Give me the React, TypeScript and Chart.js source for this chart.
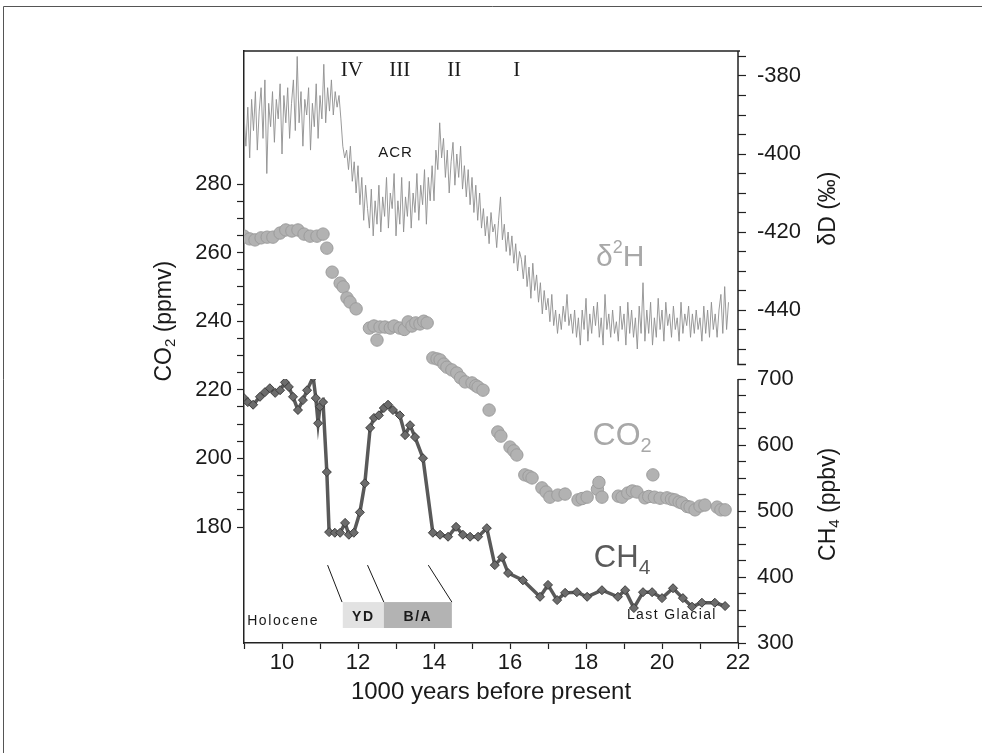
import React, { useEffect, useRef } from 'react';
import { Chart, registerables } from 'chart.js';

Chart.register(...registerables);

const SANS = '"Liberation Sans", Arial, Helvetica, sans-serif';
const SERIF = '"Liberation Serif", "Times New Roman", serif';

// δD (‰) record, one value every 0.05 kyr starting at 9.00 kyr BP
const DD_START = 9.0;
const DD_STEP = 0.05;
const deltaD = [
  // 9.00 – 9.95
  -390, -398, -388, -401, -386, -394, -384, -399, -389, -383, -396, -381, -405, -387, -393, -384, -397, -386, -391, -382,
  // 10.00 – 10.95
  -400, -385, -392, -383, -396, -387, -381, -394, -375, -392, -384, -398, -386, -390, -383, -399, -387, -393, -382, -396,
  // 11.00 – 11.95
  -385, -391, -377, -392, -383, -389, -381, -390, -384, -388, -385, -391, -398, -401, -399, -404, -398, -407, -402, -410,
  // 12.00 – 12.95
  -403, -413, -406, -417, -408, -414, -419, -409, -421, -412, -418, -408, -420, -411, -416, -406, -419, -410, -414, -405,
  // 13.00 – 13.95
  -421, -412, -418, -406, -420, -411, -416, -407, -419, -410, -415, -405, -417, -408, -413, -404, -418, -406, -412, -403,
  // 14.00 – 14.95
  -412, -399, -404, -392, -401, -396, -406, -399, -410, -402, -397, -408, -400, -406, -398, -409, -403, -411, -404, -413,
  // 15.00 – 15.95
  -406, -415, -408, -417, -410, -419, -414, -421, -416, -423, -415, -420, -418, -424, -417, -411, -422, -418, -425, -420,
  // 16.00 – 16.95
  -426, -421, -428, -423, -430, -425, -427, -432, -426, -434, -429, -437, -428, -435, -431, -438, -433, -441, -435, -440,
  // 17.00 – 17.95
  -437, -443, -436, -444, -440, -446, -441, -445, -439, -443, -436, -444, -441, -446, -440, -447, -442, -449, -440, -445,
  // 18.00 – 18.95
  -437, -448, -441, -446, -439, -444, -438, -447, -442, -449, -436, -445, -441, -447, -440, -446, -443, -448, -439, -445,
  // 19.00 – 19.95
  -441, -449, -438, -446, -440, -447, -442, -450, -439, -446, -433, -448, -440, -446, -438, -449, -442, -447, -437, -445,
  // 20.00 – 20.95
  -440, -448, -438, -444, -441, -447, -439, -445, -442, -448, -438, -446, -441, -444, -439, -447, -441, -446, -440, -445,
  // 21.00 – 21.75
  -442, -448, -439, -446, -440, -447, -438, -445, -441, -447, -440, -436, -446, -434, -445, -438,
];

// CO2 (ppmv)
const co2Age = [
  9.0, 9.15, 9.29, 9.45, 9.61, 9.76, 9.95, 10.1, 10.26, 10.42, 10.58, 10.74, 10.92, 11.08,
  11.18, 11.32, 11.53, 11.61, 11.71, 11.79, 11.95,
  12.3, 12.42, 12.5, 12.58, 12.71, 12.85, 12.95, 13.1, 13.22, 13.32, 13.42, 13.52, 13.63, 13.73, 13.82,
  13.97, 14.08, 14.16, 14.26, 14.34, 14.47, 14.6, 14.7, 14.82, 15.0, 15.1, 15.16, 15.29, 15.45,
  15.68, 15.76, 16.0, 16.1, 16.18, 16.39, 16.5, 16.58, 16.84, 16.95, 17.05, 17.26, 17.45, 17.79,
  17.9, 18.03, 18.3, 18.34, 18.42, 18.85, 18.95, 19.1, 19.22, 19.34, 19.55, 19.65, 19.76, 19.8,
  19.95, 20.13, 20.25, 20.34, 20.45, 20.53, 20.66, 20.74, 20.87, 21.0, 21.13, 21.45, 21.55, 21.66,
];
const co2Ppmv = [
  264.8, 264.0, 263.7, 264.3, 264.5, 264.5, 265.7, 266.6, 266.3, 266.6, 265.4, 264.8, 264.8, 265.4,
  261.3, 254.3, 251.1, 250.0, 246.8, 245.6, 243.6,
  238.0, 238.6, 234.5, 238.3, 238.3, 238.0, 238.6, 238.0, 237.6, 239.8, 238.6, 239.5, 239.2, 240.0, 239.5,
  229.3, 229.0, 228.7, 227.5, 226.6, 225.8, 224.9, 223.5, 222.3, 222.0, 221.2, 220.8, 219.9, 214.1,
  207.7, 206.5, 203.3, 202.2, 201.0, 195.2, 194.8, 194.3, 191.4, 190.2, 188.7, 189.3, 189.6, 187.9,
  188.3, 188.7, 191.0, 193.0, 188.7, 189.0, 188.7, 189.9, 190.5, 190.2, 188.5, 188.9, 195.2, 188.7,
  188.4, 188.5, 188.1, 187.9, 187.3, 187.0, 186.0, 185.8, 185.0, 186.1, 186.4, 185.8, 185.0, 185.0,
];

// CH4 (ppbv)
const ch4Age = [
  9.0, 9.1, 9.24, 9.42, 9.55, 9.68, 9.82, 9.95, 10.08, 10.18, 10.29, 10.42, 10.55, 10.66, 10.82,
  10.89, 10.95, 11.0, 11.08, 11.18, 11.24, 11.39, 11.53, 11.66, 11.76, 11.89, 12.05, 12.18, 12.32,
  12.42, 12.55, 12.68, 12.79, 12.92, 13.1, 13.24, 13.37, 13.5, 13.71, 13.97, 14.16, 14.37, 14.58,
  14.76, 14.95, 15.16, 15.39, 15.6, 15.79, 15.95, 16.34, 16.79, 17.0, 17.24, 17.45, 17.76, 18.03,
  18.42, 18.84, 19.03, 19.26, 19.5, 19.74, 20.0, 20.29, 20.55, 20.79, 21.05, 21.39, 21.66,
];
const ch4Ppbv = [
  671, 665, 661, 673, 680, 686, 679, 683, 695, 688, 673, 653, 668, 683, 703,
  671, 633, 658, 665, 559, 468, 467, 467, 482, 464, 467, 498, 542, 626,
  641, 645, 656, 661, 653, 645, 615, 630, 612, 580, 467, 464, 461, 476,
  464, 461, 461, 474, 418, 430, 406, 395, 370, 388, 365, 376, 377, 370,
  380, 370, 380, 353, 377, 377, 368, 383, 368, 355, 361, 361, 356,
];

// axis ticks
const xTickValues = [9, 10, 11, 12, 13, 14, 15, 16, 17, 18, 19, 20, 21, 22];
const xTickLabels = [10, 12, 14, 16, 18, 20, 22];
const co2TickValues = [180, 185, 190, 195, 200, 205, 210, 215, 220, 225, 230, 235, 240, 245, 250, 255, 260, 265, 270, 275, 280];
const co2TickLabels = [180, 200, 220, 240, 260, 280];
const ddTickValues = [-375, -380, -385, -390, -395, -400, -405, -410, -415, -420, -425, -430, -435, -440, -445, -450];
const ddTickLabels = [-380, -400, -420, -440];
const ch4TickValues = [300, 325, 350, 375, 400, 425, 450, 475, 500, 525, 550, 575, 600, 625, 650, 675, 700];
const ch4TickLabels = [300, 400, 500, 600, 700];

// annotations (data coordinates)
const phaseNames = ['IV', 'III', 'II', 'I'];
const phaseAges = [11.84, 13.1, 14.53, 16.18];
const PHASE_DD = -378.5;
const periodNames = ['YD', 'B/A'];
const periodStart = [11.6, 12.68];
const periodEnd = [12.68, 14.47];
const boundaryTopAge = [11.2, 12.25, 13.85];
const boundaryBottomAge = [11.58, 12.68, 14.47];

type Part = { t: string; size: number; dy?: number; bold?: boolean };

function drawParts(ctx: CanvasRenderingContext2D, parts: Part[], cx: number, cy: number, color: string, family: string, spacing = 0) {
  ctx.fillStyle = color;
  ctx.textBaseline = 'middle';
  ctx.textAlign = 'left';
  (ctx as any).letterSpacing = spacing + 'px';
  const widths = parts.map((p) => {
    ctx.font = `${p.bold ? 'bold ' : ''}${p.size}px ${family}`;
    return ctx.measureText(p.t).width;
  });
  const total = widths.reduce((a, b) => a + b, 0);
  let xx = cx - total / 2;
  parts.forEach((p, i) => {
    ctx.font = `${p.bold ? 'bold ' : ''}${p.size}px ${family}`;
    ctx.fillText(p.t, xx, cy + (p.dy || 0));
    xx += widths[i];
  });
  (ctx as any).letterSpacing = '0px';
}

const decor = {
  id: 'decor',
  afterDraw(chart: any) {
    const { ctx, chartArea: ca, scales } = chart;
    const x = scales.x, yC = scales.yC, yD = scales.yD, yM = scales.yM;
    ctx.save();
    // outer frame
    ctx.strokeStyle = '#555';
    ctx.lineWidth = 1;
    ctx.beginPath();
    ctx.moveTo(3.5, chart.height);
    ctx.lineTo(3.5, 6.5);
    ctx.lineTo(chart.width, 6.5);
    ctx.stroke();

    // plot top border + right spines
    ctx.strokeStyle = '#222';
    ctx.lineWidth = 1.5;
    ctx.beginPath();
    ctx.moveTo(ca.left, ca.top);
    ctx.lineTo(ca.right + 2, ca.top);
    const ddEnd = yD.getPixelForValue(-454);
    ctx.moveTo(ca.right, ca.top);
    ctx.lineTo(ca.right, ddEnd);
    ctx.lineTo(ca.right + 8, ddEnd);
    ctx.moveTo(ca.right, yM.getPixelForValue(700));
    ctx.lineTo(ca.right, yM.getPixelForValue(300));
    ctx.stroke();

    // axis titles
    ctx.save();
    ctx.translate(165, yC.getPixelForValue(240));
    ctx.rotate(-Math.PI / 2);
    drawParts(ctx, [{ t: 'CO', size: 23 }, { t: '2', size: 15, dy: 6 }, { t: ' (ppmv)', size: 23 }], 0, 0, '#1a1a1a', SANS);
    ctx.restore();

    ctx.save();
    ctx.translate(829, yD.getPixelForValue(-414));
    ctx.rotate(-Math.PI / 2);
    drawParts(ctx, [{ t: 'δD (‰)', size: 23 }], 0, 0, '#1a1a1a', SANS);
    ctx.restore();

    ctx.save();
    ctx.translate(829, yM.getPixelForValue(510));
    ctx.rotate(-Math.PI / 2);
    drawParts(ctx, [{ t: 'CH', size: 23 }, { t: '4', size: 15, dy: 6 }, { t: ' (ppbv)', size: 23 }], 0, 0, '#1a1a1a', SANS);
    ctx.restore();

    drawParts(ctx, [{ t: '1000 years before present', size: 24 }], (ca.left + ca.right) / 2, 692, '#1a1a1a', SANS);

    // phase numerals
    phaseNames.forEach((n, i) => {
      drawParts(ctx, [{ t: n, size: 21 }], x.getPixelForValue(phaseAges[i]), yD.getPixelForValue(PHASE_DD), '#1a1a1a', SERIF);
    });
    drawParts(ctx, [{ t: 'ACR', size: 15 }], x.getPixelForValue(12.99), yD.getPixelForValue(-399.7), '#1a1a1a', SANS, 1);

    // series labels
    drawParts(ctx, [{ t: 'δ', size: 30 }, { t: '2', size: 18, dy: -9 }, { t: 'H', size: 30 }], x.getPixelForValue(18.9), yD.getPixelForValue(-426.5), '#a8a8a8', SANS);
    drawParts(ctx, [{ t: 'CO', size: 32 }, { t: '2', size: 20, dy: 10 }], x.getPixelForValue(18.95), yC.getPixelForValue(206.5), '#a8a8a8', SANS);
    drawParts(ctx, [{ t: 'CH', size: 31 }, { t: '4', size: 21, dy: 10 }], x.getPixelForValue(18.95), yM.getPixelForValue(428), '#5a5a5a', SANS);

    // climate periods
    const boxTop = yM.getPixelForValue(362);
    const boxBot = yM.getPixelForValue(322.7);
    const fills = ['#e2e2e2', '#b3b3b3'];
    periodNames.forEach((n, i) => {
      const x0 = x.getPixelForValue(periodStart[i]);
      const x1 = x.getPixelForValue(periodEnd[i]);
      ctx.fillStyle = fills[i];
      ctx.fillRect(x0, boxTop, x1 - x0, boxBot - boxTop);
      drawParts(ctx, [{ t: n, size: 14, bold: true }], (x0 + x1) / 2, yM.getPixelForValue(339.4), '#1a1a1a', SANS, 1.5);
    });
    ctx.strokeStyle = '#1a1a1a';
    ctx.lineWidth = 1;
    ctx.beginPath();
    boundaryTopAge.forEach((a, i) => {
      ctx.moveTo(x.getPixelForValue(a), yM.getPixelForValue(418));
      ctx.lineTo(x.getPixelForValue(boundaryBottomAge[i]), boxTop);
    });
    ctx.stroke();
    drawParts(ctx, [{ t: 'Holocene', size: 14 }], x.getPixelForValue(10.03), yM.getPixelForValue(333.3), '#1a1a1a', SANS, 1.6);
    drawParts(ctx, [{ t: 'Last Glacial', size: 14 }], x.getPixelForValue(20.26), yM.getPixelForValue(342.4), '#1a1a1a', SANS, 1.4);
    ctx.restore();
  },
};

const tickFont = { family: SANS, size: 22 };

export default function App() {
  const ref = useRef<HTMLCanvasElement>(null);
  useEffect(() => {
    const canvas = ref.current;
    if (!canvas) return;
    const ddData = deltaD.map((v, i) => ({ x: DD_START + i * DD_STEP, y: v }));
    const co2Data = co2Age.map((a, i) => ({ x: a, y: co2Ppmv[i] }));
    const ch4Data = ch4Age.map((a, i) => ({ x: a, y: ch4Ppbv[i] }));
    const chart = new Chart(canvas, {
      type: 'scatter',
      data: {
        datasets: [
          {
            label: 'CH4',
            data: ch4Data,
            yAxisID: 'yM',
            showLine: true,
            borderColor: '#595959',
            borderWidth: 3.5,
            pointStyle: 'rectRot',
            pointRadius: 4.5,
            pointBackgroundColor: '#6c6c6c',
            pointBorderColor: '#3c3c3c',
            pointBorderWidth: 1,
            tension: 0,
          } as any,
          {
            label: 'CO2',
            data: co2Data,
            yAxisID: 'yC',
            showLine: false,
            pointRadius: 6.2,
            pointBackgroundColor: '#b2b2b2',
            pointBorderColor: '#9c9c9c',
            pointBorderWidth: 1,
          } as any,
          {
            label: 'δD',
            data: ddData,
            yAxisID: 'yD',
            showLine: true,
            borderColor: '#8e8e8e',
            borderWidth: 0.9,
            pointRadius: 0,
            tension: 0,
          } as any,
        ],
      },
      options: {
        responsive: false,
        animation: false,
        devicePixelRatio: 1,
        events: [],
        layout: { padding: { top: 51, left: 0, right: 0, bottom: 0 } },
        plugins: { legend: { display: false }, tooltip: { enabled: false } },
        scales: {
          x: {
            type: 'linear',
            position: 'bottom',
            min: 9,
            max: 22,
            afterBuildTicks: (s: any) => { s.ticks = xTickValues.map((v) => ({ value: v })); },
            afterFit: (s: any) => { s.height = 110; },
            ticks: {
              autoSkip: false,
              maxRotation: 0,
              padding: 1,
              color: '#1a1a1a',
              font: tickFont,
              callback: (v: any) => (xTickLabels.includes(Math.round(Number(v))) ? String(Math.round(Number(v))) : ''),
            },
            grid: { drawOnChartArea: false, drawTicks: true, tickLength: 6, tickColor: '#222', tickWidth: 1.2 },
            border: { display: true, color: '#222', width: 1.5 },
          },
          yC: {
            type: 'linear',
            position: 'left',
            min: 146.18,
            max: 318.78,
            afterBuildTicks: (s: any) => { s.ticks = co2TickValues.map((v) => ({ value: v })); },
            afterFit: (s: any) => { s.width = 244; },
            ticks: {
              autoSkip: false,
              padding: 5,
              color: '#1a1a1a',
              font: tickFont,
              callback: (v: any) => (co2TickLabels.includes(Math.round(Number(v))) ? String(Math.round(Number(v))) : ''),
            },
            grid: { drawOnChartArea: false, drawTicks: true, tickLength: 7, tickColor: '#222', tickWidth: 1.2 },
            border: { display: true, color: '#222', width: 1.5 },
          },
          yD: {
            type: 'linear',
            position: 'right',
            stack: 'right',
            stackWeight: 328,
            weight: 1,
            min: -457.69,
            max: -373.59,
            afterBuildTicks: (s: any) => { s.ticks = ddTickValues.map((v) => ({ value: v })); },
            afterFit: (s: any) => { s.width = 244; },
            ticks: {
              autoSkip: false,
              padding: 11,
              color: '#1a1a1a',
              font: tickFont,
              callback: (v: any) => (ddTickLabels.includes(Math.round(Number(v))) ? String(Math.round(Number(v))) : ''),
            },
            grid: { drawOnChartArea: false, drawTicks: true, tickLength: 8, tickColor: '#222', tickWidth: 1.2 },
            border: { display: false },
          },
          yM: {
            type: 'linear',
            position: 'right',
            stack: 'right',
            stackWeight: 264,
            weight: 2,
            min: 300,
            max: 700,
            afterBuildTicks: (s: any) => { s.ticks = ch4TickValues.map((v) => ({ value: v })); },
            afterFit: (s: any) => { s.width = 244; },
            ticks: {
              autoSkip: false,
              padding: 11,
              color: '#1a1a1a',
              font: tickFont,
              callback: (v: any) => (ch4TickLabels.includes(Math.round(Number(v))) ? String(Math.round(Number(v))) : ''),
            },
            grid: { drawOnChartArea: false, drawTicks: true, tickLength: 8, tickColor: '#222', tickWidth: 1.2 },
            border: { display: false },
          },
        },
      } as any,
      plugins: [decor],
    });
    return () => chart.destroy();
  }, []);
  return (
    <div style={{ position: 'absolute', left: 0, top: 0, width: 982, height: 753, background: '#fff' }}>
      <canvas ref={ref} width={982} height={753} style={{ display: 'block' }} />
    </div>
  );
}
